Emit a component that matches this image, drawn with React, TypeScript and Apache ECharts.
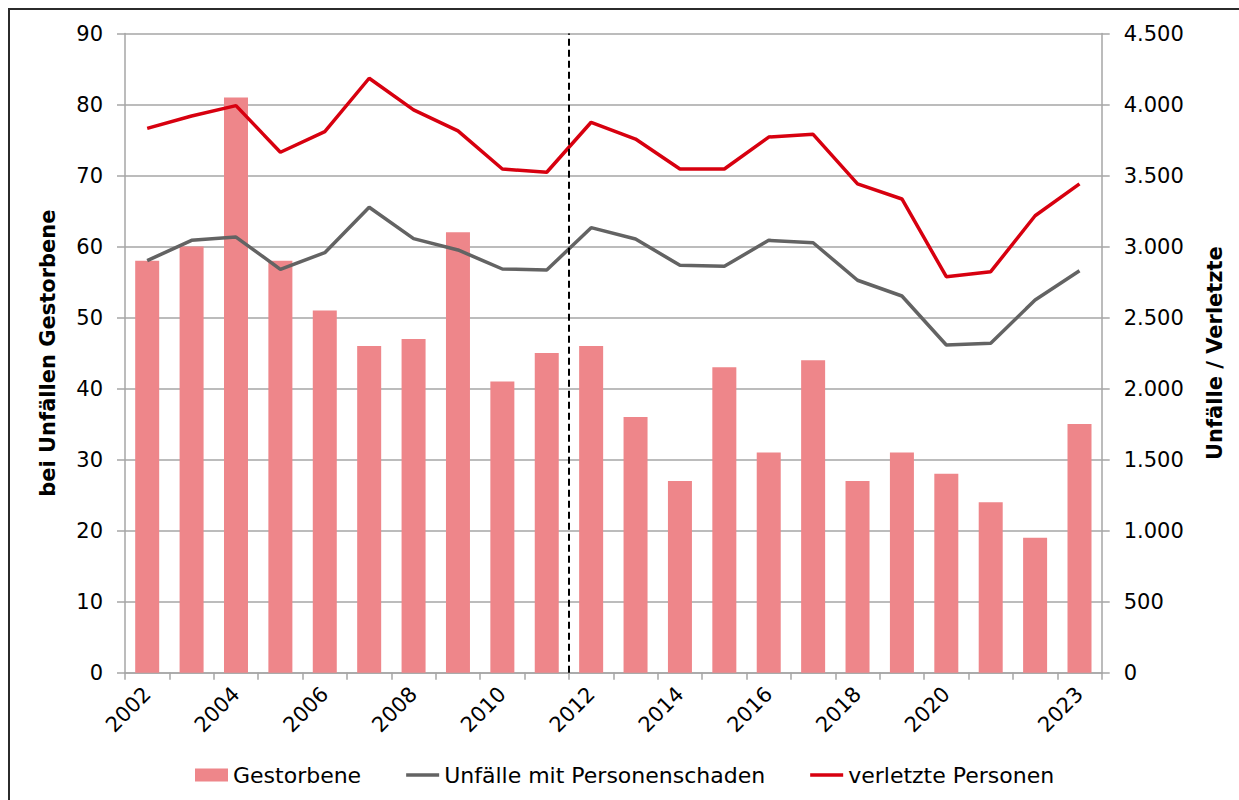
import React, { useEffect, useRef } from "react";
import * as echarts from "echarts";

const years = [
  "2002", "2003", "2004", "2005", "2006", "2007", "2008", "2009", "2010", "2011", "2012",
  "2013", "2014", "2015", "2016", "2017", "2018", "2019", "2020", "2021", "2022", "2023",
];
const gestorbene = [58, 60, 81, 58, 51, 46, 47, 62, 41, 45, 46, 36, 27, 43, 31, 44, 27, 31, 28, 24, 19, 35];
const unfaelle = [
  2901, 3044, 3067, 2840, 2957, 3277, 3056, 2976, 2842, 2835, 3133,
  3053, 2868, 2861, 3044, 3027, 2763, 2652, 2307, 2319, 2624, 2830,
];
const verletzte = [
  3832, 3919, 3992, 3664, 3809, 4185, 3962, 3814, 3546, 3523, 3875,
  3757, 3546, 3546, 3771, 3790, 3441, 3335, 2788, 2823, 3217, 3441,
];
const shownYearLabels = ["2002", "2004", "2006", "2008", "2010", "2012", "2014", "2016", "2018", "2020", "2023"];
const breakBeforeYear = "2012";
const leftAxis = { min: 0, max: 90, interval: 10 };
const rightAxis = { min: 0, max: 4500, interval: 500 };
const seriesNames = ["Gestorbene", "Unfälle mit Personenschaden", "verletzte Personen"];

const FONT = "DejaVu Sans";
const GRID_COLOR = "#a6a6a6";
const LINE_ICON = "path://M0,0 L33,0 L33,3.6 L0,3.6 Z";

const deFormat = (v: number) => String(v).replace(/\B(?=(\d{3})+(?!\d))/g, ".");

export default function App() {
  const ref = useRef<HTMLDivElement>(null);
  useEffect(() => {
    if (!ref.current) return;
    const chart = echarts.init(ref.current, null, { renderer: "svg" });
    const breakIndex = years.indexOf(breakBeforeYear);
    chart.setOption({
      animation: false,
      backgroundColor: "#ffffff",
      textStyle: { fontFamily: FONT, color: "#000" },
      graphic: [
        {
          type: "rect",
          shape: { x: 1, y: 1, width: 1400, height: 1000 },
          style: { fill: "none", stroke: "#2b2b2b", lineWidth: 2 },
          silent: true,
        },
      ],
      grid: { left: 117, right: 137.3, top: 25.5, bottom: 127.3, containLabel: false },
      legend: {
        data: [
          { name: seriesNames[0], icon: "rect" },
          { name: seriesNames[1], icon: LINE_ICON },
          { name: seriesNames[2], icon: LINE_ICON },
        ],
        left: 182,
        top: 751,
        itemWidth: 33,
        itemHeight: 13,
        itemGap: 45,
        symbolKeepAspect: true,
        textStyle: { fontFamily: FONT, fontSize: 22, color: "#000" },
        selectedMode: false,
      },
      xAxis: [
        {
          type: "category",
          data: years,
          boundaryGap: true,
          axisLine: { show: true, lineStyle: { color: GRID_COLOR, width: 1.5 } },
          axisTick: { show: true, interval: 0, length: 7, lineStyle: { color: GRID_COLOR, width: 1.5 } },
          axisLabel: {
            interval: (_i: number, v: string) => shownYearLabels.includes(v),
            rotate: 45,
            margin: 18,
            fontSize: 21,
            fontFamily: FONT,
            color: "#000",
          },
          splitLine: { show: false },
        },
        {
          type: "value",
          min: 0,
          max: years.length,
          show: false,
        },
      ],
      yAxis: [
        {
          type: "value",
          min: leftAxis.min,
          max: leftAxis.max,
          interval: leftAxis.interval,
          name: "bei Unfällen Gestorbene",
          nameLocation: "middle",
          nameGap: 67,
          nameTextStyle: { fontFamily: FONT, fontSize: 21, fontWeight: "bold", color: "#000" },
          axisLine: { show: true, lineStyle: { color: GRID_COLOR, width: 1.5 } },
          axisTick: { show: true, length: 8, lineStyle: { color: GRID_COLOR, width: 1.5 } },
          axisLabel: { margin: 22, fontSize: 21, fontFamily: FONT, color: "#000" },
          splitLine: { show: true, lineStyle: { color: GRID_COLOR, width: 1.5 } },
        },
        {
          type: "value",
          min: rightAxis.min,
          max: rightAxis.max,
          interval: rightAxis.interval,
          position: "right",
          name: "Unfälle / Verletzte",
          nameLocation: "middle",
          nameGap: 103,
          nameTextStyle: { fontFamily: FONT, fontSize: 21, fontWeight: "bold", color: "#000" },
          axisLine: { show: true, lineStyle: { color: GRID_COLOR, width: 1.5 } },
          axisTick: { show: true, length: 8, lineStyle: { color: GRID_COLOR, width: 1.5 } },
          axisLabel: { margin: 22, fontSize: 21, fontFamily: FONT, color: "#000", formatter: deFormat },
          splitLine: { show: false },
        },
      ],
      series: [
        {
          name: seriesNames[0],
          type: "bar",
          data: gestorbene,
          barWidth: 24,
          itemStyle: { color: "#ee868a" },
          xAxisIndex: 0,
          yAxisIndex: 0,
        },
        {
          name: seriesNames[1],
          type: "line",
          data: unfaelle,
          xAxisIndex: 0,
          yAxisIndex: 1,
          symbol: "none",
          lineStyle: { color: "#636363", width: 3.5 },
          itemStyle: { color: "#636363" },
        },
        {
          name: seriesNames[2],
          type: "line",
          data: verletzte,
          xAxisIndex: 0,
          yAxisIndex: 1,
          symbol: "none",
          lineStyle: { color: "#d7000f", width: 3.5 },
          itemStyle: { color: "#d7000f" },
        },
        {
          name: "Trennlinie",
          type: "line",
          data: [],
          xAxisIndex: 1,
          yAxisIndex: 0,
          symbol: "none",
          markLine: {
            silent: true,
            symbol: "none",
            label: { show: false },
            lineStyle: { color: "#000", type: [7, 4], width: 2 },
            data: [{ xAxis: breakIndex }],
          },
        },
      ],
    });
    return () => chart.dispose();
  }, []);
  return (
    <div
      ref={ref}
      style={{ position: "fixed", left: 8, top: 8, width: 1231, height: 792 }}
    />
  );
}
